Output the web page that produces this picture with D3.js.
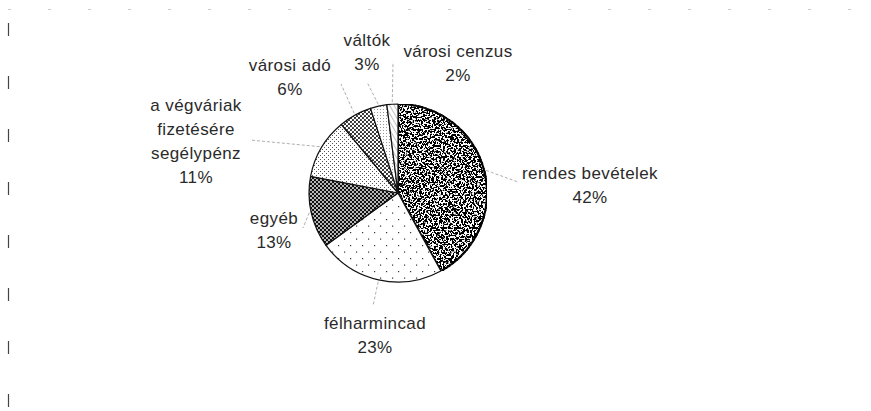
<!DOCTYPE html>
<html>
<head>
<meta charset="utf-8">
<script src="https://cdn.jsdelivr.net/npm/d3@7"></script>
<style>
  body { margin: 0; background: #fff; }
  svg { display: block; }
  text { font-family: "Liberation Sans", Arial, sans-serif; font-size: 17px; fill: #2a2a2a; letter-spacing: 0.4px; }
</style>
</head>
<body>
<svg id="chart"></svg>
<script>
const width = 871;
const height = 411;

// data
const categories = ['rendes bevételek', 'félharmincad', 'egyéb', 'a végváriak fizetésére segélypénz', 'városi adó', 'váltók', 'városi cenzus'];
const labelLines = [['rendes bevételek'], ['félharmincad'], ['egyéb'], ['a végváriak', 'fizetésére', 'segélypénz'], ['városi adó'], ['váltók'], ['városi cenzus']];
const values = [42, 23, 13, 11, 6, 3, 2];

// layout of the labels (text block centre x, first baseline) and leader end points
const labelAt = [[590, 179], [375, 329], [274, 224], [196, 111], [290, 71], [367, 46], [458, 57]];
const leaderEnd = [[518, 182], [373, 306], [303, 228], [250, 140], [341, 84], [367, 82], [393, 62]];

const svg = d3.select('#chart')
    .attr('width', width)
    .attr('height', height);

const defs = svg.append('defs');

// fill patterns, one per slice
function pattern(id, w, h, bg) {
    const p = defs.append('pattern')
        .attr('id', id)
        .attr('patternUnits', 'userSpaceOnUse')
        .attr('width', w).attr('height', h);
    p.append('rect').attr('width', w).attr('height', h).attr('fill', bg);
    return p;
}

// noise for the dark slice
const f = defs.append('filter').attr('id', 'noise')
    .attr('x', 0).attr('y', 0).attr('width', '100%').attr('height', '100%');
f.append('feTurbulence').attr('type', 'fractalNoise').attr('baseFrequency', 0.55)
    .attr('numOctaves', 2).attr('seed', 7).attr('result', 't');
f.append('feColorMatrix').attr('in', 't').attr('type', 'matrix')
    .attr('values', '0 0 0 0 0  0 0 0 0 0  0 0 0 0 0  -22 0 0 0 12.0').attr('result', 'dots');
f.append('feComposite').attr('in', 'dots').attr('in2', 'SourceGraphic').attr('operator', 'in').attr('result', 'clip');
const fm = f.append('feMerge');
fm.append('feMergeNode').attr('in', 'SourceGraphic');
fm.append('feMergeNode').attr('in', 'clip');

// sparse staggered dots
let p = pattern('p1', 12, 13, '#fff');
p.append('rect').attr('x', 0).attr('y', 0).attr('width', 1.2).attr('height', 1.2).attr('fill', '#333');
p.append('rect').attr('x', 6).attr('y', 6.5).attr('width', 1.2).attr('height', 1.2).attr('fill', '#333');

// dark check
p = pattern('p2', 4, 4, '#111');
p.append('circle').attr('cx', 1).attr('cy', 1).attr('r', 0.95).attr('fill', '#fff');
p.append('circle').attr('cx', 3).attr('cy', 3).attr('r', 0.95).attr('fill', '#fff');

// fine dots
p = pattern('p3', 4, 4, '#fff');
p.append('rect').attr('x', 0).attr('y', 0).attr('width', 1).attr('height', 1).attr('fill', '#555');
p.append('rect').attr('x', 2).attr('y', 2).attr('width', 1).attr('height', 1).attr('fill', '#555');

// light check
p = pattern('p4', 4, 4, '#fff');
p.append('circle').attr('cx', 1).attr('cy', 1).attr('r', 1.1).attr('fill', '#222');
p.append('circle').attr('cx', 3).attr('cy', 3).attr('r', 1.1).attr('fill', '#222');

// very light dots
p = pattern('p5', 3, 3, '#fff');
p.append('rect').attr('x', 0).attr('y', 0).attr('width', 1).attr('height', 1).attr('fill', '#999');

// hatch
p = pattern('p6', 4, 4, '#fff').attr('patternTransform', 'rotate(-30)');
p.append('line').attr('x1', 0).attr('y1', 0).attr('x2', 0).attr('y2', 4)
    .attr('stroke', '#888').attr('stroke-width', 1);

const fills = ['#fff', 'url(#p1)', 'url(#p2)', 'url(#p3)', 'url(#p4)', 'url(#p5)', 'url(#p6)'];

// chart frame remnants
svg.append('line')
    .attr('x1', 8.5).attr('x2', 8.5).attr('y1', 23).attr('y2', height)
    .attr('stroke', '#444').attr('stroke-width', 1.2)
    .attr('stroke-dasharray', '13,40');
svg.append('line')
    .attr('x1', 8).attr('x2', width - 20).attr('y1', 9.5).attr('y2', 9.5)
    .attr('stroke', '#ccc').attr('stroke-width', 1)
    .attr('stroke-dasharray', '3,37');

const cx = 398, cy = 193, r = 89;

const pie = d3.pie().sort(null).value(d => d);
const arcs = pie(values);
const arc = d3.arc().innerRadius(0).outerRadius(r);
const edge = d3.arc().innerRadius(r + 2).outerRadius(r + 2);

const g = svg.append('g').attr('transform', `translate(${cx},${cy})`);

g.selectAll('path.slice')
    .data(arcs)
    .join('path')
    .attr('class', 'slice')
    .attr('d', arc)
    .attr('fill', (d, i) => fills[i])
    .attr('filter', (d, i) => i === 0 ? 'url(#noise)' : null)
    .attr('stroke', '#111')
    .attr('stroke-width', (d, i) => i === 0 ? 2.2 : 1.2)
    .attr('stroke-linejoin', 'round');

// leader lines
svg.append('g')
    .selectAll('line')
    .data(arcs)
    .join('line')
    .attr('x1', d => cx + edge.centroid(d)[0])
    .attr('y1', d => cy + edge.centroid(d)[1])
    .attr('x2', (d, i) => leaderEnd[i][0])
    .attr('y2', (d, i) => leaderEnd[i][1])
    .attr('stroke', '#999')
    .attr('stroke-width', 0.8)
    .attr('stroke-dasharray', '3,2');

// labels
const lab = svg.append('g')
    .selectAll('text')
    .data(arcs)
    .join('text')
    .attr('text-anchor', 'middle');

lab.each(function(d, i) {
    const t = d3.select(this);
    const lines = labelLines[i].concat([`${values[i]}%`]);
    lines.forEach((s, k) => {
        t.append('tspan')
            .attr('x', labelAt[i][0])
            .attr('y', labelAt[i][1] + k * 24)
            .text(s);
    });
});
</script>
</body>
</html>
